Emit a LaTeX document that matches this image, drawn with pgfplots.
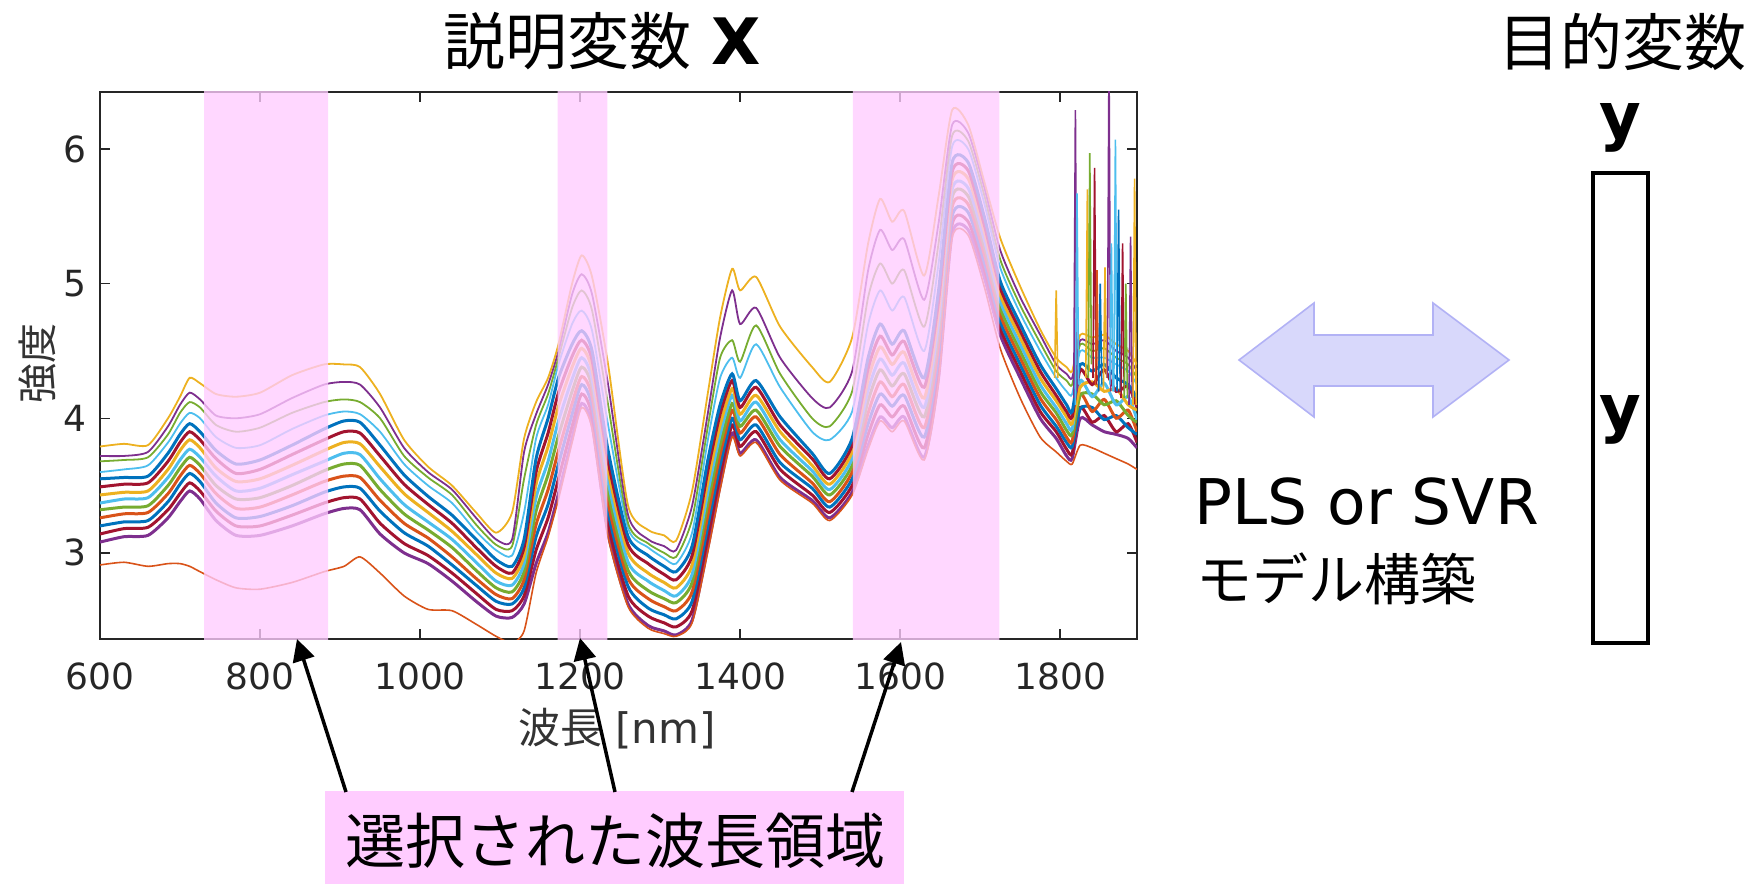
\documentclass[border=0pt]{standalone}
\usepackage{pgfplots}
\pgfplotsset{compat=1.18}
\usepackage{pgfplotstable}
\usepackage{fontspec}
\setmainfont{DejaVu Sans}
\newfontfamily\jp{Noto Sans CJK JP}
\usetikzlibrary{arrows.meta}
\definecolor{m1}{rgb}{0,0.447,0.741}
\definecolor{m2}{rgb}{0.85,0.325,0.098}
\definecolor{m3}{rgb}{0.929,0.694,0.125}
\definecolor{m4}{rgb}{0.494,0.184,0.556}
\definecolor{m5}{rgb}{0.466,0.674,0.188}
\definecolor{m6}{rgb}{0.301,0.745,0.933}
\definecolor{m7}{rgb}{0.635,0.078,0.184}
\definecolor{axgray}{HTML}{262626}
\definecolor{labgray}{HTML}{333333}
\definecolor{bandpink}{RGB}{255,204,255}
\definecolor{arrfill}{RGB}{216,216,251}
\definecolor{arredge}{RGB}{178,178,245}
\pgfplotstableread{
x b0 b1 b2 b3 b4 b5 b6 b7 b8 a1 a2 a3 t o
600 3.08 3.14 3.20 3.26 3.32 3.37 3.43 3.49 3.55 3.60 3.68 3.72 3.79 2.91
630 3.12 3.18 3.23 3.29 3.34 3.40 3.45 3.51 3.56 3.62 3.69 3.72 3.81 2.93
660 3.13 3.19 3.24 3.30 3.35 3.41 3.46 3.52 3.57 3.65 3.71 3.75 3.80 2.90
685 3.26 3.32 3.38 3.44 3.50 3.56 3.62 3.68 3.74 3.82 3.88 3.94 4.00 2.92
700 3.38 3.44 3.51 3.57 3.63 3.69 3.76 3.82 3.88 3.96 4.04 4.10 4.16 2.92
712 3.46 3.52 3.59 3.65 3.71 3.77 3.84 3.90 3.96 4.04 4.12 4.19 4.30 2.90
725 3.40 3.46 3.53 3.59 3.65 3.71 3.78 3.84 3.90 4.00 4.08 4.14 4.26 2.86
745 3.24 3.31 3.37 3.44 3.50 3.57 3.63 3.70 3.76 3.86 3.95 4.02 4.18 2.80
770 3.13 3.20 3.26 3.33 3.40 3.46 3.53 3.59 3.66 3.78 3.90 4.00 4.16 2.74
800 3.13 3.20 3.27 3.34 3.41 3.48 3.55 3.62 3.69 3.80 3.93 4.03 4.19 2.73
840 3.20 3.28 3.35 3.43 3.50 3.58 3.65 3.73 3.80 3.92 4.04 4.15 4.32 2.78
880 3.29 3.37 3.45 3.53 3.61 3.68 3.76 3.84 3.92 4.02 4.12 4.25 4.40 2.86
905 3.33 3.41 3.49 3.57 3.66 3.74 3.82 3.90 3.98 4.05 4.14 4.27 4.40 2.90
925 3.32 3.40 3.48 3.56 3.65 3.73 3.81 3.89 3.97 4.03 4.12 4.25 4.38 2.97
950 3.14 3.22 3.31 3.39 3.47 3.55 3.64 3.72 3.80 3.90 4.00 4.08 4.18 2.85
980 3.00 3.07 3.15 3.22 3.29 3.36 3.44 3.51 3.58 3.66 3.72 3.78 3.84 2.68
1010 2.92 2.98 3.05 3.11 3.17 3.23 3.30 3.36 3.42 3.50 3.56 3.60 3.64 2.58
1040 2.79 2.85 2.91 2.97 3.04 3.10 3.16 3.22 3.28 3.37 3.43 3.47 3.50 2.57
1070 2.64 2.70 2.76 2.81 2.87 2.93 2.99 3.04 3.10 3.16 3.21 3.26 3.30 2.47
1095 2.53 2.58 2.64 2.69 2.74 2.79 2.85 2.90 2.95 3.02 3.06 3.10 3.15 2.38
1115 2.52 2.57 2.62 2.66 2.71 2.76 2.81 2.85 2.90 2.98 3.05 3.10 3.30 2.33
1130 2.62 2.68 2.74 2.80 2.86 2.92 2.98 3.04 3.10 3.30 3.55 3.75 3.85 2.42
1145 2.92 3.02 3.12 3.21 3.31 3.41 3.51 3.60 3.70 3.85 3.95 4.03 4.12 2.85
1160 3.15 3.26 3.36 3.47 3.58 3.68 3.79 3.89 4.00 4.10 4.18 4.25 4.30 3.12
1173 3.44 3.55 3.66 3.76 3.87 3.98 4.09 4.19 4.30 4.40 4.45 4.50 4.55 3.40
1190 3.85 3.94 4.03 4.11 4.20 4.29 4.38 4.46 4.55 4.70 4.82 4.92 5.00 3.82
1202 4.11 4.18 4.25 4.31 4.38 4.45 4.52 4.58 4.65 4.80 4.95 5.07 5.21 4.08
1215 3.95 4.02 4.09 4.16 4.23 4.29 4.36 4.43 4.50 4.65 4.80 4.92 5.05 3.92
1235 3.14 3.22 3.30 3.37 3.45 3.53 3.61 3.68 3.76 3.95 4.10 4.25 4.40 3.12
1260 2.62 2.68 2.75 2.81 2.87 2.93 3.00 3.06 3.12 3.18 3.22 3.28 3.35 2.60
1285 2.46 2.53 2.59 2.66 2.72 2.79 2.85 2.92 2.98 3.04 3.07 3.10 3.17 2.44
1305 2.42 2.48 2.54 2.60 2.66 2.72 2.78 2.84 2.90 2.96 3.00 3.05 3.13 2.40
1320 2.39 2.45 2.51 2.57 2.63 2.68 2.74 2.80 2.86 2.92 2.97 3.02 3.09 2.38
1340 2.50 2.57 2.64 2.71 2.78 2.84 2.91 2.98 3.05 3.15 3.25 3.35 3.46 2.48
1360 3.05 3.13 3.21 3.29 3.38 3.46 3.54 3.62 3.70 3.85 3.95 4.05 4.20 3.02
1375 3.50 3.58 3.65 3.73 3.80 3.88 3.95 4.03 4.10 4.30 4.45 4.60 4.75 3.47
1390 3.89 3.95 4.00 4.06 4.11 4.17 4.22 4.28 4.33 4.45 4.58 4.95 5.11 3.86
1400 3.74 3.79 3.84 3.89 3.94 3.98 4.03 4.08 4.13 4.30 4.42 4.70 4.95 3.72
1420 3.84 3.90 3.95 4.01 4.06 4.12 4.17 4.23 4.28 4.55 4.69 4.82 5.05 3.82
1450 3.56 3.62 3.67 3.73 3.79 3.84 3.90 3.95 4.01 4.23 4.33 4.45 4.68 3.54
1490 3.39 3.43 3.48 3.52 3.57 3.61 3.65 3.70 3.74 3.90 4.00 4.15 4.38 3.37
1512 3.26 3.30 3.34 3.38 3.43 3.47 3.51 3.55 3.59 3.84 3.94 4.08 4.27 3.24
1540 3.45 3.50 3.55 3.60 3.65 3.70 3.75 3.80 3.85 4.05 4.20 4.35 4.60 3.43
1560 3.80 3.88 3.96 4.04 4.13 4.21 4.29 4.37 4.45 4.70 4.90 5.10 5.30 3.77
1575 4.01 4.10 4.18 4.27 4.36 4.44 4.53 4.61 4.70 4.95 5.15 5.40 5.63 3.98
1590 3.93 4.01 4.09 4.16 4.24 4.32 4.40 4.47 4.55 4.80 5.00 5.25 5.46 3.90
1605 4.01 4.09 4.17 4.25 4.33 4.41 4.49 4.57 4.65 4.90 5.10 5.33 5.54 3.98
1630 3.71 3.78 3.86 3.93 4.01 4.08 4.15 4.23 4.30 4.50 4.68 4.88 5.06 3.69
1648 4.30 4.38 4.46 4.54 4.63 4.71 4.79 4.87 4.95 5.15 5.30 5.45 5.65 4.27
1665 5.37 5.44 5.50 5.57 5.64 5.70 5.77 5.83 5.90 6.02 6.10 6.18 6.29 5.34
1685 5.40 5.46 5.53 5.59 5.65 5.71 5.78 5.84 5.90 6.00 6.06 6.12 6.18 5.36
1705 5.05 5.11 5.16 5.22 5.28 5.33 5.39 5.44 5.50 5.60 5.66 5.72 5.76 4.98
1725 4.62 4.67 4.72 4.77 4.82 4.87 4.92 4.97 5.02 5.12 5.18 5.25 5.34 4.52
1750 4.30 4.35 4.40 4.45 4.50 4.55 4.60 4.65 4.70 4.78 4.84 4.90 4.98 4.15
1775 4.00 4.05 4.10 4.15 4.20 4.25 4.30 4.35 4.40 4.50 4.56 4.62 4.66 3.86
1795 3.85 3.90 3.94 3.99 4.04 4.08 4.13 4.17 4.22 4.30 4.35 4.40 4.45 3.75
1808 3.72 3.77 3.82 3.86 3.91 3.96 4.01 4.05 4.10 4.20 4.28 4.33 4.38 3.68
1815 3.70 3.74 3.79 3.83 3.88 3.92 3.96 4.01 4.05 4.18 4.25 4.30 4.35 3.66
1825 4.00 4.08 4.07 4.18 4.17 4.28 4.23 4.36 4.40 4.50 4.55 4.58 4.62 3.80
1840 3.95 3.97 4.08 4.05 4.18 4.16 4.27 4.25 4.35 4.45 4.50 4.55 4.60 3.78
1855 3.90 4.02 3.99 4.14 4.10 4.26 4.20 4.36 4.40 4.45 4.52 4.58 4.62 3.74
1870 3.88 3.90 4.02 4.00 4.13 4.10 4.22 4.20 4.30 4.40 4.45 4.50 4.55 3.70
1885 3.85 3.96 3.93 4.06 4.02 4.16 4.10 4.24 4.25 4.35 4.40 4.45 4.50 3.66
1896 3.78 3.82 3.88 3.90 3.97 3.99 4.06 4.08 4.15 4.25 4.30 4.35 4.40 3.62
}\spec
\begin{document}
\begin{tikzpicture}
\useasboundingbox (0,0) rectangle (878pt,442pt);
\begin{axis}[
  at={(50pt,122.5pt)}, anchor=south west, scale only axis,
  width=518.5pt, height=273.5pt,
  xmin=600, xmax=1896, ymin=2.36, ymax=6.424,
  xtick={600,800,1000,1200,1400,1600,1800}, ytick={3,4,5,6},
  tick align=inside, major tick length=5pt,
  axis line style={draw=axgray, line width=0.7pt},
  every tick/.style={draw=axgray, line width=0.7pt},
  /pgf/number format/assume math mode=true,
  /pgf/number format/1000 sep={},
  ticklabel style={font=\fontsize{18}{20}\selectfont, text=axgray, inner sep=0pt},
  xticklabel style={anchor=north, yshift=-11.5pt},
  yticklabel style={anchor=east, xshift=-6.5pt},
  xlabel={{\jp 波長} [nm]},
  ylabel={\jp 強度},
  xlabel style={at={(axis description cs:0.4986,0)}, anchor=base, yshift=-52pt, inner sep=0pt, font=\fontsize{21}{24}\selectfont, text=labgray},
  ylabel style={at={(axis description cs:-0.0608,0.503)}, anchor=center, inner sep=0pt, font=\fontsize{20}{24}\selectfont, text=labgray},
  every axis plot/.append style={line width=1.5pt, mark=none},
]
\addplot[m4, smooth, tension=0.4] table[x=x,y=b0]{\spec};
\addplot[m7, smooth, tension=0.4] table[x=x,y=b1]{\spec};
\addplot[m1, smooth, tension=0.4] table[x=x,y=b2]{\spec};
\addplot[m2, smooth, tension=0.4] table[x=x,y=b3]{\spec};
\addplot[m5, smooth, tension=0.4] table[x=x,y=b4]{\spec};
\addplot[m6, smooth, tension=0.4] table[x=x,y=b5]{\spec};
\addplot[m3, smooth, tension=0.4] table[x=x,y=b6]{\spec};
\addplot[m7, smooth, tension=0.4] table[x=x,y=b7]{\spec};
\addplot[m1, smooth, tension=0.4] table[x=x,y=b8]{\spec};
\addplot[m6, smooth, tension=0.4, line width=0.9pt] table[x=x,y=a1]{\spec};
\addplot[m5, smooth, tension=0.4, line width=0.9pt] table[x=x,y=a2]{\spec};
\addplot[m4, smooth, tension=0.4, line width=0.9pt] table[x=x,y=a3]{\spec};
\addplot[m3, smooth, tension=0.4, line width=0.9pt] table[x=x,y=t]{\spec};
\addplot[m2, smooth, tension=0.4, line width=0.8pt] table[x=x,y=o]{\spec};
% spikes in the noisy tail
\addplot[m3, line width=0.8pt] coordinates {(1793,4.30) (1795,4.95) (1797,4.30)};
\addplot[m4, line width=0.8pt] coordinates {(1817,4.15) (1819,6.29) (1821,4.20)};
\addplot[m6, line width=0.8pt] coordinates {(1819,4.10) (1821,5.67) (1823,4.25)};
\addplot[m3, line width=0.8pt] coordinates {(1832,4.30) (1834,5.70) (1836,4.35)};
\addplot[m5, line width=0.8pt] coordinates {(1835,4.30) (1837,5.97) (1839,4.40)};
\addplot[m7, line width=0.8pt] coordinates {(1841,4.30) (1843,5.86) (1845,4.25)};
\addplot[m2, line width=0.8pt] coordinates {(1844,4.25) (1846,5.10) (1848,4.20)};
\addplot[m1, line width=0.8pt] coordinates {(1848,4.20) (1850,5.00) (1852,4.25)};
\addplot[m3, line width=0.8pt] coordinates {(1854,4.20) (1856,5.12) (1858,4.30)};
\addplot[m4, line width=0.8pt] coordinates {(1859,4.30) (1861,6.70) (1863,4.20)};
\addplot[m6, line width=0.8pt] coordinates {(1862,4.25) (1864,5.30) (1866,4.20)};
\addplot[m6, line width=0.8pt] coordinates {(1867,4.20) (1869,6.07) (1871,4.25)};
\addplot[m1, line width=0.8pt] coordinates {(1871,4.20) (1873,5.55) (1875,4.20)};
\addplot[m7, line width=0.8pt] coordinates {(1876,4.15) (1878,5.30) (1880,4.20)};
\addplot[m5, line width=0.8pt] coordinates {(1880,4.15) (1882,5.00) (1884,4.15)};
\addplot[m4, line width=0.8pt] coordinates {(1886,4.10) (1888,5.35) (1890,4.15)};
\addplot[m3, line width=0.8pt] coordinates {(1891,4.10) (1893,5.78) (1895,4.10)};
% selected wavelength bands
\addplot[draw=none, fill=bandpink, fill opacity=0.78] coordinates {(730,2.3) (885,2.3) (885,6.5) (730,6.5) (730,2.3)};
\addplot[draw=none, fill=bandpink, fill opacity=0.78] coordinates {(1172,2.3) (1234,2.3) (1234,6.5) (1172,6.5) (1172,2.3)};
\addplot[draw=none, fill=bandpink, fill opacity=0.78] coordinates {(1541,2.3) (1724,2.3) (1724,6.5) (1541,6.5) (1541,2.3)};
\end{axis}
\begin{scope}[x=0.5pt, y=-0.5pt, yshift=442pt]
  \node[anchor=base, inner sep=0pt, font=\fontsize{32}{36}\selectfont] at (602,65)
    {{\jp\fontsize{31}{36}\selectfont 説明変数} {\bfseries X}};
  \node[anchor=base, inner sep=0pt, font=\jp\fontsize{31}{36}\selectfont] at (1622,66) {目的変数};
  \node[anchor=base, inner sep=0pt, font=\fontsize{32}{36}\selectfont\bfseries] at (1620,139) {y};
  \draw[line width=2pt] (1593,173) rectangle (1648,643);
  \node[anchor=base, inner sep=0pt, font=\fontsize{32}{36}\selectfont\bfseries] at (1620,431) {y};
  \filldraw[fill=arrfill, draw=arredge, line width=0.8pt]
    (1239,360) -- (1314,303) -- (1314,335) -- (1433,335) -- (1433,303) -- (1509,360)
    -- (1433,417) -- (1433,386) -- (1314,386) -- (1314,417) -- cycle;
  \node[anchor=base west, inner sep=0pt, font=\fontsize{31.5}{36}\selectfont] at (1194,525) {PLS or SVR};
  \node[anchor=base west, inner sep=0pt, font=\jp\fontsize{28}{32}\selectfont] at (1196,601) {モデル構築};
  \fill[bandpink] (325,791) rectangle (904,884);
  \node[anchor=base, inner sep=0pt, font=\jp\fontsize{30}{34}\selectfont] at (615,863) {選択された波長領域};
  \draw[line width=1.75pt, -{Triangle[length=11pt,width=11pt]}] (346,792) -- (297,639);
  \draw[line width=1.75pt, -{Triangle[length=11pt,width=11pt]}] (615,792) -- (580,638);
  \draw[line width=1.75pt, -{Triangle[length=11pt,width=11pt]}] (852,792) -- (901,642);
\end{scope}
\end{tikzpicture}
\end{document}
